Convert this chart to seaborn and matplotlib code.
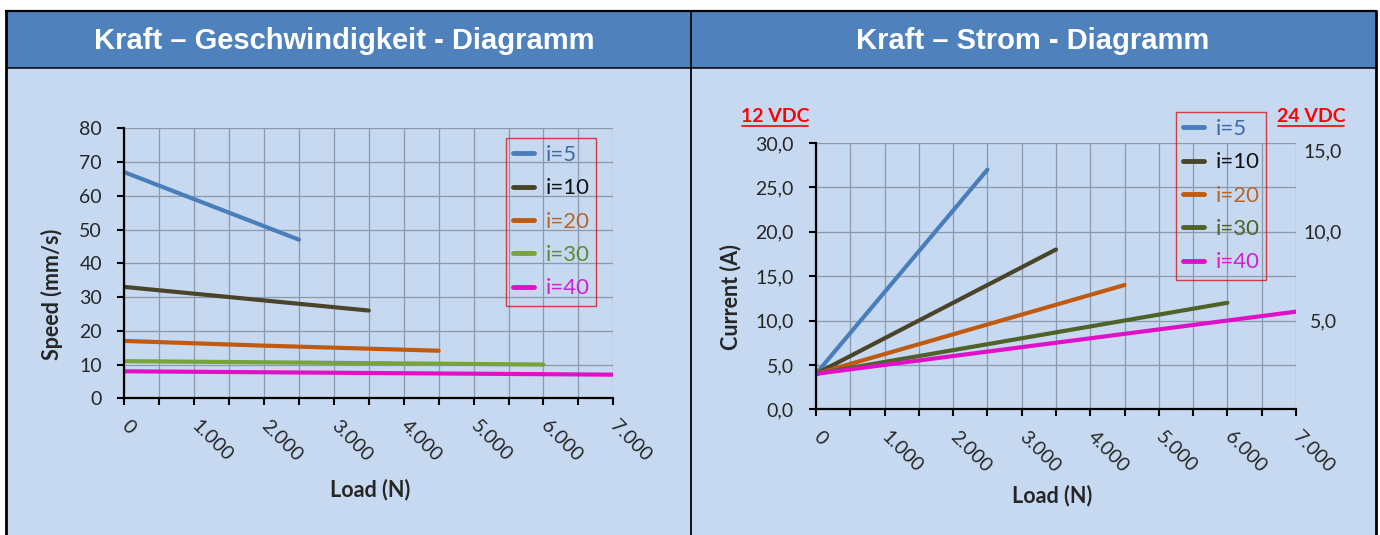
import numpy as np
import pandas as pd
import matplotlib
matplotlib.use("Agg")
import matplotlib.pyplot as plt
from matplotlib.patches import Rectangle
from matplotlib.ticker import MultipleLocator, FixedLocator
import seaborn as sns

# ---------------- data ----------------
series_names = ["i=5", "i=10", "i=20", "i=30", "i=40"]

# Kraft - Geschwindigkeit (speed in mm/s vs load in N)
load_i5 = [0, 500, 1000, 1500, 2000, 2500]
speed_i5 = [67, 63, 59, 55, 51, 47]
load_i10 = [0, 500, 1000, 1500, 2000, 2500, 3000, 3500]
speed_i10 = [33, 32, 31, 30, 29, 28, 27, 26]
load_i20 = [0, 1000, 2000, 3000, 4000, 4500]
speed_i20 = [17, 16.3, 15.6, 15.0, 14.4, 14.1]
load_i30 = [0, 6000]
speed_i30 = [11, 10]
load_i40 = [0, 7000]
speed_i40 = [8, 7]

# Kraft - Strom (current in A vs load in N)
cload_i5 = [0, 2500]
current_i5 = [4, 27]
cload_i10 = [0, 3500]
current_i10 = [4, 18]
cload_i20 = [0, 4500]
current_i20 = [4, 14]
cload_i30 = [0, 6000]
current_i30 = [4, 12]
cload_i40 = [0, 7000]
current_i40 = [4, 11]

x_tick_values = [0, 1000, 2000, 3000, 4000, 5000, 6000, 7000]
x_tick_labels = ["0", "1.000", "2.000", "3.000", "4.000", "5.000", "6.000", "7.000"]
speed_ticks = [0, 10, 20, 30, 40, 50, 60, 70, 80]
current_ticks = [0, 5, 10, 15, 20, 25, 30]
current_tick_labels = ["0,0", "5,0", "10,0", "15,0", "20,0", "25,0", "30,0"]
right_ticks = [5, 10, 15]
right_tick_labels = ["5,0", "10,0", "15,0"]

title_left = "Kraft – Geschwindigkeit - Diagramm"
title_right = "Kraft – Strom - Diagramm"

# ---------------- style ----------------
sns.set_theme(style="white")
plt.rcParams['font.family'] = ['Lato', 'DejaVu Sans']

W, H = 1380, 535
HEADER = '#4F81BD'
BODY = '#C6D9F1'
GRID = '#8C99AB'
TXT = '#262626'

speed_colors = ['#4A7EBB', '#4A452A', '#C05A10', '#77A33A', '#E010C8']
current_colors = ['#4A7EBB', '#4A452A', '#C05A10', '#4F6228', '#E010C8']
speed_text_colors = ['#3D6AA6', '#111111', '#B9652A', '#5E8A2E', '#D020D0']
current_text_colors = ['#3D6AA6', '#111111', '#B9652A', '#4F6228', '#D020D0']

fig = plt.figure(figsize=(W / 100, H / 100), dpi=100)
fig.patch.set_facecolor('white')

# background drawing layer in pixel coordinates
bg = fig.add_axes([0, 0, 1, 1])
bg.set_xlim(0, W)
bg.set_ylim(H, 0)
bg.axis('off')
bg.set_zorder(-5)
bg.add_patch(Rectangle((6, 11), 684, 57, fc=HEADER, ec='none'))
bg.add_patch(Rectangle((691, 11), 685, 57, fc=HEADER, ec='none'))
bg.add_patch(Rectangle((6, 68), 684, 467, fc=BODY, ec='none'))
bg.add_patch(Rectangle((691, 68), 685, 467, fc=BODY, ec='none'))
for xs, ys, lw in [([5, 1377], [10.5, 10.5], 1.6),
                   ([6, 1376], [68, 68], 1.1),
                   ([6, 6], [10, 535], 2.0),
                   ([690.5, 690.5], [10, 535], 1.3),
                   ([1375.5, 1375.5], [10, 535], 2.0)]:
    bg.plot(xs, ys, color='black', lw=lw, solid_capstyle='butt', clip_on=False)

title_font = ['Liberation Sans', 'DejaVu Sans']
bg.text(344, 49, title_left, ha='center', va='baseline', color='white',
        fontsize=21, fontweight='bold', family=title_font)
bg.text(1033, 49, title_right, ha='center', va='baseline', color='white',
        fontsize=21, fontweight='bold', family=title_font)


def build(names, loads, values, ycol):
    frames = []
    for n, l, v in zip(names, loads, values):
        frames.append(pd.DataFrame({'Load': l, ycol: v, 'Series': n}))
    return pd.concat(frames, ignore_index=True)


speed_df = build(series_names,
                 [load_i5, load_i10, load_i20, load_i30, load_i40],
                 [speed_i5, speed_i10, speed_i20, speed_i30, speed_i40], 'Speed')
current_df = build(series_names,
                   [cload_i5, cload_i10, cload_i20, cload_i30, cload_i40],
                   [current_i5, current_i10, current_i20, current_i30, current_i40], 'Current')


def style_axes(ax, ymax, yticks, yticklabels):
    ax.patch.set_visible(False)
    ax.set_xlim(0, 7000)
    ax.set_ylim(0, ymax)
    ax.xaxis.set_major_locator(FixedLocator(x_tick_values))
    ax.set_xticklabels(x_tick_labels)
    ax.xaxis.set_minor_locator(MultipleLocator(500))
    ax.set_yticks(yticks)
    ax.set_yticklabels(yticklabels)
    ax.set_axisbelow(True)
    ax.grid(True, which='both', axis='x', color=GRID, lw=0.9)
    ax.grid(True, which='major', axis='y', color=GRID, lw=0.9)
    for s in ['top', 'right']:
        ax.spines[s].set_visible(False)
    for s in ['left', 'bottom']:
        ax.spines[s].set_visible(True)
        ax.spines[s].set_color('black')
        ax.spines[s].set_linewidth(1.6)
    ax.tick_params(axis='both', which='both', direction='out', length=5, width=1.5,
                   color='black', bottom=True, left=True)
    ax.tick_params(axis='y', labelsize=14, pad=11, labelcolor=TXT)
    ax.tick_params(axis='x', which='major', labelsize=14, pad=13, labelcolor=TXT)
    for lbl in ax.get_xticklabels():
        lbl.set_rotation(-45)
        lbl.set_rotation_mode('anchor')
        lbl.set_horizontalalignment('left')
        lbl.set_verticalalignment('center')
    ax.set_xlabel('')
    ax.set_ylabel('')


def style_legend(ax, x_px, y_px, text_colors):
    old = ax.get_legend()
    handles = old.legend_handles
    labels = [t.get_text() for t in old.texts]
    leg = ax.legend(handles, labels, loc='upper left',
                    bbox_to_anchor=(x_px / W, 1 - y_px / H),
                    bbox_transform=fig.transFigure, borderaxespad=0,
                    frameon=True, fancybox=False, fontsize=16,
                    borderpad=0.32, handlelength=0.95, handletextpad=0.5,
                    labelspacing=0.6)
    fr = leg.get_frame()
    fr.set_edgecolor('#D01818')
    fr.set_facecolor('none')
    fr.set_linewidth(1.0)
    for h in leg.legend_handles:
        h.set_linewidth(3.5)
        h.set_solid_capstyle('round')
    for t, c in zip(leg.get_texts(), text_colors):
        t.set_color(c)
    return leg


# ---------------- left chart ----------------
ax_l = fig.add_axes([124.3 / W, 1 - 398.3 / H, 489 / W, 270 / H])
sns.lineplot(data=speed_df, x='Load', y='Speed', hue='Series', hue_order=series_names,
             palette=speed_colors, estimator=None, lw=3, ax=ax_l)
for ln in ax_l.get_lines():
    ln.set_solid_capstyle('round')
style_axes(ax_l, 80, speed_ticks, [str(v) for v in speed_ticks])
style_legend(ax_l, 506, 138, speed_text_colors)

# ---------------- right chart ----------------
ax_r = fig.add_axes([816 / W, 1 - 409.3 / H, 480 / W, 266.3 / H])
sns.lineplot(data=current_df, x='Load', y='Current', hue='Series', hue_order=series_names,
             palette=current_colors, estimator=None, lw=3, ax=ax_r)
for ln in ax_r.get_lines():
    ln.set_solid_capstyle('round')
style_axes(ax_r, 30, current_ticks, current_tick_labels)
style_legend(ax_r, 1176, 112, current_text_colors)

ax2 = ax_r.twinx()
ax2.patch.set_visible(False)
ax2.set_ylim(0, 15)
ax2.set_yticks(right_ticks)
ax2.set_yticklabels(right_tick_labels)
ax2.grid(False)
for s in ax2.spines.values():
    s.set_visible(False)
ax2.tick_params(axis='y', length=0, pad=27 / 1.389, labelsize=14, labelcolor=TXT, right=True)
for lbl in ax2.get_yticklabels():
    lbl.set_horizontalalignment('center')
ax2.get_yticklabels()[-1].set_verticalalignment('top')

# ---------------- axis titles & annotations ----------------
lab_kw = dict(fontsize=15.5, fontweight='bold', color=TXT)
bg.text(52, 294, 'Speed (mm/s)', rotation=90, ha='center', va='center', **lab_kw)
bg.text(731, 297, 'Current (A)', rotation=90, ha='center', va='center', **lab_kw)
bg.text(370, 490, 'Load (N)', ha='center', va='center', **lab_kw)
bg.text(1052, 496, 'Load (N)', ha='center', va='center', **lab_kw)

for cx, txt in [(775, '12 VDC'), (1311, '24 VDC')]:
    bg.text(cx, 121.5, txt, ha='center', va='baseline', color='red',
            fontsize=14, fontweight='bold')
    bg.plot([cx - 33, cx + 33], [125.5, 125.5], color='red', lw=1.2, clip_on=False)

fig.savefig('out.png', dpi=100, facecolor='white')
